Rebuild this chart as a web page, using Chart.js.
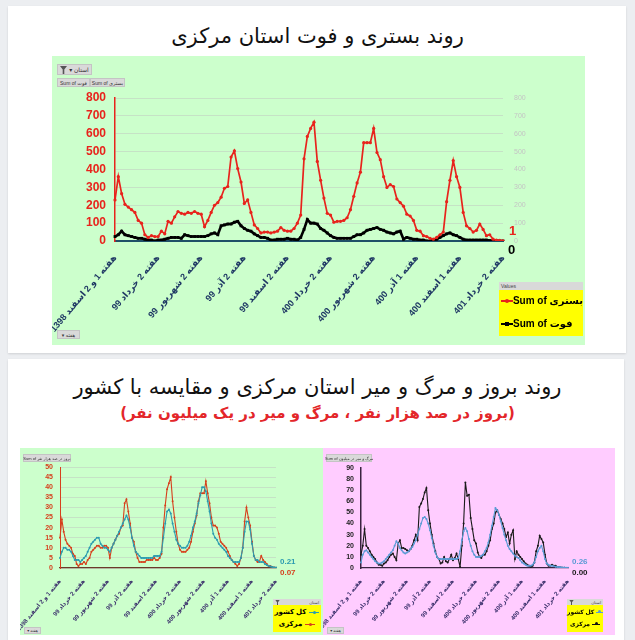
<!DOCTYPE html>
<html><head><meta charset="utf-8">
<script src="https://cdn.jsdelivr.net/npm/chart.js@4.4.1/dist/chart.umd.min.js"></script>
<style>
html,body{margin:0;padding:0}
body{width:635px;height:640px;background:#eceef1;position:relative;overflow:hidden;font-family:"DejaVu Sans",sans-serif}
.card{position:absolute;background:#fff;box-shadow:0 1px 2px rgba(0,0,0,0.12)}
.panel{position:absolute;overflow:hidden}
.panel canvas{position:absolute;left:0;top:0;direction:rtl}
.title{position:absolute;left:0;width:635px;text-align:center;direction:rtl;white-space:nowrap}
.btn{position:absolute;background:#d9d9d9;border:1px solid #c4c4c4;font:5px "Liberation Sans","DejaVu Sans",sans-serif;color:#333;white-space:nowrap;box-sizing:border-box;display:flex;align-items:center;justify-content:center;gap:2px}
.legend{position:absolute;background:#ffff00;box-sizing:border-box}
.lhead{background:#d9d9d9;height:8px;font:5px "Liberation Sans","DejaVu Sans",sans-serif;color:#444;display:flex;align-items:center;justify-content:space-between;padding:0 2px}
.lrow{position:absolute;left:0;right:0;display:flex;align-items:center;white-space:nowrap;font-weight:bold;font-family:"Liberation Sans","DejaVu Sans",sans-serif;color:#000}
.mk{position:relative;display:inline-block}
.mk i{position:absolute;left:0;right:0;top:50%;height:2px;margin-top:-1px}
.mk b{position:absolute;left:50%;top:50%;width:4px;height:4px;margin:-2px 0 0 -2px;border-radius:50%}
</style>
</head><body>
<div class="card" style="left:8px;top:6px;width:618px;height:347px"></div>
<div class="card" style="left:8px;top:359px;width:616px;height:290px"></div>

<div class="title" style="top:24px;font-size:21px;color:#111">روند بستری و فوت استان مرکزی</div>
<div class="title" style="top:375px;font-size:21px;color:#111">روند بروز و مرگ و میر استان مرکزی و مقایسه با کشور</div>
<div class="title" style="top:404px;font-size:15px;color:#e3262a;font-weight:bold">(بروز در صد هزار نفر ، مرگ و میر در یک میلیون نفر)</div>

<!-- top panel -->
<div class="panel" style="left:52px;top:56px;width:533px;height:289px;background:#ccffcc">
  <canvas id="c1" width="533" height="289"></canvas>
  <div class="btn" style="left:5px;top:8px;width:35px;height:11px;font-size:6px"><svg width="7" height="8" viewBox="0 0 7 8"><path d="M0 0H7L4.3 3.5V8H2.7V3.5Z" fill="#555"/></svg><span dir="rtl">استان ▾</span></div>
  <div class="btn" style="left:5px;top:22px;width:33px;height:9px"><span dir="ltr">Sum of فوت</span></div>
  <div class="btn" style="left:38px;top:22px;width:35px;height:9px"><span dir="ltr">Sum of بستری</span></div>
  <div class="btn" style="left:5px;top:274px;width:23px;height:9px"><span dir="rtl">هفته ▾</span></div>
  <div class="legend" style="left:447px;top:226px;width:84px;height:54px">
    <div class="lhead" style="justify-content:flex-start">Values</div>
    <div class="lrow" style="top:13px;font-size:10px;padding-left:2px"><span class="mk" style="width:12px;height:8px"><i style="background:#e8231c"></i><b style="background:#e8231c"></b></span><span dir="ltr">Sum of بستری</span></div>
    <div class="lrow" style="top:36px;font-size:10px;padding-left:2px"><span class="mk" style="width:12px;height:8px"><i style="background:#000"></i><b style="background:#000;border-radius:0"></b></span><span dir="ltr">Sum of فوت</span></div>
  </div>
</div>

<!-- bottom left panel -->
<div class="panel" style="left:20px;top:448px;width:303px;height:187px;background:#ccffcc">
  <canvas id="c2" width="303" height="187"></canvas>
  <div class="btn" style="left:3px;top:6px;width:48px;height:8px;font-size:4px"><span dir="ltr">Sum of بروز در صد هزار نفر</span></div>
  <div class="btn" style="left:4px;top:179px;width:17px;height:7px;font-size:4px"><span dir="rtl">هفته ▾</span></div>
  <div class="legend" style="left:253px;top:151px;width:48px;height:33px">
    <div class="lhead" style="height:6px;font-size:4px"><svg width="5" height="5" viewBox="0 0 7 8"><path d="M0 0H7L4.3 3.5V8H2.7V3.5Z" fill="#555"/></svg><span>استان</span></div>
    <div class="lrow" style="top:9px;font-size:7px;justify-content:center;gap:3px"><span dir="rtl">کل کشور</span><span class="mk" style="width:10px;height:6px"><i style="background:#2a9bb0;height:1px;margin-top:0"></i><b style="background:#2a9bb0;width:3px;height:3px;margin:-1.5px 0 0 -1.5px"></b></span></div>
    <div class="lrow" style="top:21px;font-size:7px;justify-content:center;gap:3px"><span dir="rtl">مرکزی</span><span class="mk" style="width:10px;height:6px"><i style="background:#d6401d;height:1px;margin-top:0"></i><b style="background:#d6401d;width:3px;height:3px;margin:-1.5px 0 0 -1.5px"></b></span></div>
  </div>
</div>

<!-- bottom right panel -->
<div class="panel" style="left:323px;top:448px;width:292px;height:187px;background:#ffccff">
  <canvas id="c3" width="292" height="187"></canvas>
  <div class="btn" style="left:3px;top:6px;width:46px;height:8px;font-size:4px"><span dir="ltr">Sum of مرگ و میر در میلیون</span></div>
  <div class="btn" style="left:4px;top:179px;width:17px;height:7px;font-size:4px"><span dir="rtl">هفته ▾</span></div>
  <div class="legend" style="left:244px;top:151px;width:36px;height:33px">
    <div class="lhead" style="height:6px;font-size:4px"><svg width="5" height="5" viewBox="0 0 7 8"><path d="M0 0H7L4.3 3.5V8H2.7V3.5Z" fill="#555"/></svg><span>استان</span></div>
    <div class="lrow" style="top:9px;font-size:6px;justify-content:center;gap:2px"><span dir="rtl">کل کشور</span><span class="mk" style="width:8px;height:6px"><i style="background:#5b9bd5;height:1px;margin-top:0"></i><b style="background:#5b9bd5;width:3px;height:3px;margin:-1.5px 0 0 -1.5px"></b></span></div>
    <div class="lrow" style="top:21px;font-size:6px;justify-content:center;gap:2px"><span dir="rtl">مرکزی</span><span class="mk" style="width:8px;height:6px"><i style="background:#111;height:1px;margin-top:0"></i><b style="background:#111;width:3px;height:3px;margin:-1.5px 0 0 -1.5px"></b></span></div>
  </div>
</div>

<script>
// ---- data ----
const tickLabels = ["هفته 1 و 2 اسفند 1398","هفته 2 خرداد 99","هفته 2 شهریور 99","هفته 2 آذر 99","هفته 2 اسفند 99","هفته 2 خرداد 400","هفته 2 شهریور 400","هفته 1 آذر 400","هفته 1 اسفند 400","هفته 2 خرداد 401"];
const weeksBetweenTicks = 13;

const hospitalized = [230,360,265,205,190,175,160,115,100,35,
 20,30,25,25,55,40,110,100,135,165,
 155,150,160,155,165,155,150,80,115,160,
 200,215,245,295,305,470,505,405,330,210,
 230,160,90,70,45,50,50,45,50,55,
 75,60,55,55,70,100,145,460,585,630,
 665,445,340,240,155,145,105,110,110,115,
 130,175,250,325,385,550,550,550,630,495,
 455,360,300,315,305,235,215,195,150,140,
 115,60,55,30,25,15,10,20,35,50,
 220,340,450,360,300,160,85,70,50,60,
 95,65,30,35,10,5,3,1];
const deaths = [25,35,55,35,30,25,20,15,15,10,
 5,5,0,5,5,10,15,20,20,20,
 15,35,30,25,25,25,25,25,30,40,
 45,35,85,90,95,95,105,110,85,70,
 60,55,40,30,20,20,15,5,5,10,
 10,10,15,10,10,5,20,65,120,100,
 100,95,70,60,45,30,20,15,15,15,
 15,15,25,35,35,45,60,65,70,75,
 65,60,50,45,40,50,55,10,20,15,
 10,10,5,5,0,0,5,10,20,30,
 40,45,35,30,20,10,5,5,5,5,
 5,5,5,2,2,1,0,0];
const incidenceCountry = [5,8,10,10,9,9,8,6,4,4,
 4,3,4,5,6,8,10,12,13,14,
 15,15,12,11,10,10,9,8,10,12,
 14,16,18,20,22,24,26,24,20,15,
 11,8,7,6,5,5,5,5,5,5,
 5,6,6,6,6,8,15,22,28,29,
 27,22,18,14,12,11,10,10,10,11,
 13,16,20,23,27,32,36,40,40,38,
 33,28,22,17,15,14,12,11,10,9,
 8,6,5,4,3,3,3,3,5,10,
 18,23,23,19,12,6,4,4,3,3,
 3,2,1.5,1,0.8,0.5,0.3,0.21];
const incidenceMarkazi = [15,24,18,14,12,11,10,7,6,2,
 1,2,2,3,2,4,5,8,9,10,
 11,11,10,10,11,11,10,5,10,12,
 14,16,17,20,21,32,34,28,22,15,
 13,8,5,3,3,3,3,4,4,4,
 4,5,4,4,5,7,20,31,39,42,
 45,33,25,18,12,9,8,8,8,9,
 10,13,18,22,26,33,37,37,37,43,
 37,32,25,21,21,20,17,13,12,11,
 10,8,6,4,3,2,1,2,5,10,
 23,30,25,21,13,6,4,3,3,6,
 4,3,2,1,1,0.5,0.3,0.07];
const mortalityCountry = [5,12,15,16,14,12,10,8,6,5,
 4,4,5,6,8,10,12,14,16,20,
 24,22,18,16,14,13,14,15,17,19,
 22,25,30,35,40,45,46,44,40,34,
 27,20,14,10,8,8,8,8,8,8,
 8,8,8,8,8,9,15,25,33,36,
 33,26,20,15,12,10,10,10,11,12,
 15,18,23,30,38,46,54,52,48,42,
 36,30,25,20,17,15,13,11,10,9,
 7,5,4,3,2,2,2,3,5,10,
 15,18,20,15,8,4,3,2,2,1.5,
 1.2,1,0.8,0.6,0.5,0.4,0.3,0.26];
const mortalityMarkazi = [12,20,35,20,18,15,12,10,8,5,
 3,3,2,4,5,7,10,12,13,10,
 7,22,25,18,18,17,16,15,17,20,
 25,30,25,55,58,62,68,72,52,40,
 30,22,15,10,8,4,5,10,6,5,
 8,12,7,9,13,8,1,20,40,77,
 65,66,45,35,25,22,14,10,9,12,
 12,15,20,25,35,40,50,52,48,44,
 40,35,28,32,22,30,34,8,15,12,
 10,8,6,4,3,2,1,2,5,15,
 20,29,26,23,12,4,2,2,3,2,
 2,1,1,0.5,0.3,0.2,0.1,0];

// category labels: tick label every weeksBetweenTicks points
const weekLabels = hospitalized.map((_, i) => (i % weeksBetweenTicks === 0 ? (tickLabels[i / weeksBetweenTicks] || '') : ''));

const numFont = '"Liberation Sans","DejaVu Sans",sans-serif';

const endLabels = {
  id: 'endLabels',
  afterDatasetsDraw(chart) {
    const ctx = chart.ctx;
    chart.data.datasets.forEach((ds, i) => {
      const el = ds.endLabel;
      if (!el) return;
      const meta = chart.getDatasetMeta(i);
      const pt = meta.data[meta.data.length - 1];
      const v = ds.data[ds.data.length - 1];
      ctx.save();
      ctx.direction = 'ltr';
      ctx.font = el.font;
      ctx.fillStyle = el.color;
      ctx.textAlign = 'left';
      ctx.textBaseline = 'middle';
      ctx.fillText(v.toFixed(el.decimals), pt.x + el.dx, pt.y + el.dy);
      ctx.restore();
    });
  }
};

function xScale(opts) {
  return {
    offset: false,
    grid: { display: false },
    border: { color: opts.borderColor, width: opts.borderWidth },
    ticks: { autoSkip: false, maxRotation: 50, minRotation: 50, color: opts.color,
      font: { size: opts.size, weight: 'bold', family: numFont }, padding: opts.padding },
    afterFit(s) { s.height = opts.height; s.paddingLeft = 0; s.paddingRight = 0; }
  };
}

Chart.defaults.font.family = numFont;

// top chart
new Chart(document.getElementById('c1'), {
  type: 'line',
  data: { labels: weekLabels, datasets: [
    { label: 'Sum of بستری', data: hospitalized, borderColor: '#e8231c', backgroundColor: '#e8231c',
      borderWidth: 1.7, pointRadius: 1.6, pointBorderWidth: 0, yAxisID: 'y',
      endLabel: { font: 'bold 13px ' + numFont, color: '#e8231c', dx: 6, dy: -9, decimals: 0 } },
    { label: 'Sum of فوت', data: deaths, borderColor: '#000', backgroundColor: '#000',
      borderWidth: 2.6, pointRadius: 2, pointStyle: 'rect', pointBorderWidth: 0, yAxisID: 'y',
      endLabel: { font: 'bold 13px ' + numFont, color: '#000', dx: 5, dy: 9, decimals: 0 } }
  ]},
  options: {
    responsive: false, animation: false,
    plugins: { legend: { display: false }, tooltip: { enabled: false } },
    layout: { padding: { top: 42, left: 0, right: 0, bottom: 0 } },
    elements: { line: { tension: 0 } },
    scales: {
      x: xScale({ borderColor: '#1f5068', borderWidth: 2, color: '#1f3864', size: 9, padding: 4, height: 104 }),
      y: { min: 0, max: 800, ticks: { autoSkip: false, stepSize: 100, color: '#e8231c', font: { size: 12, weight: 'bold' }, padding: 9 },
           grid: { color: 'rgba(190,190,190,0.45)', drawTicks: false }, border: { color: '#e8231c', width: 1.5 },
           afterFit(s) { s.width = 63; } },
      y1: { position: 'right', min: 0, max: 800, ticks: { autoSkip: false, stepSize: 100, color: '#c4c4c4', font: { size: 7 }, padding: 11 },
           grid: { display: false, drawTicks: false }, border: { display: false },
           afterFit(s) { s.width = 82; } }
    }
  },
  plugins: [endLabels]
});

// bottom left chart
new Chart(document.getElementById('c2'), {
  type: 'line',
  data: { labels: weekLabels, datasets: [
    { label: 'کل کشور', data: incidenceCountry, borderColor: '#2a9bb0', backgroundColor: '#2a9bb0',
      borderWidth: 1.1, pointRadius: 1, pointBorderWidth: 0,
      endLabel: { font: 'bold 8px ' + numFont, color: '#2a9bb0', dx: 4, dy: -6, decimals: 2 } },
    { label: 'مرکزی', data: incidenceMarkazi, borderColor: '#d6401d', backgroundColor: '#d6401d',
      borderWidth: 1.1, pointRadius: 1, pointBorderWidth: 0,
      endLabel: { font: 'bold 8px ' + numFont, color: '#d6401d', dx: 4, dy: 5, decimals: 2 } }
  ]},
  options: {
    responsive: false, animation: false,
    plugins: { legend: { display: false }, tooltip: { enabled: false } },
    layout: { padding: { top: 19, left: 0, right: 47, bottom: 0 } },
    elements: { line: { tension: 0 } },
    scales: {
      x: xScale({ borderColor: '#6b3a2a', borderWidth: 1.2, color: '#3a2f6b', size: 6, padding: 2, height: 67 }),
      y: { min: 0, max: 50, ticks: { autoSkip: false, stepSize: 5, color: '#d6401d', font: { size: 7, weight: 'bold' }, padding: 7 },
           grid: { color: 'rgba(190,190,190,0.45)', drawTicks: false }, border: { color: '#d6401d', width: 1 },
           afterFit(s) { s.width = 40; } }
    }
  },
  plugins: [endLabels]
});

// bottom right chart
new Chart(document.getElementById('c3'), {
  type: 'line',
  data: { labels: weekLabels, datasets: [
    { label: 'کل کشور', data: mortalityCountry, borderColor: '#5b9bd5', backgroundColor: '#5b9bd5',
      borderWidth: 1.1, pointRadius: 1, pointBorderWidth: 0,
      endLabel: { font: 'bold 8px ' + numFont, color: '#5b9bd5', dx: 4, dy: -6, decimals: 2 } },
    { label: 'مرکزی', data: mortalityMarkazi, borderColor: '#1a1a1a', backgroundColor: '#1a1a1a',
      borderWidth: 1.1, pointRadius: 1, pointBorderWidth: 0,
      endLabel: { font: 'bold 8px ' + numFont, color: '#1a1a1a', dx: 4, dy: 5, decimals: 2 } }
  ]},
  options: {
    responsive: false, animation: false,
    plugins: { legend: { display: false }, tooltip: { enabled: false } },
    layout: { padding: { top: 20, left: 0, right: 47, bottom: 0 } },
    elements: { line: { tension: 0 } },
    scales: {
      x: xScale({ borderColor: '#3a2240', borderWidth: 1.2, color: '#3a2f6b', size: 6, padding: 2, height: 67 }),
      y: { min: 0, max: 90, ticks: { autoSkip: false, stepSize: 10, color: '#222', font: { size: 7, weight: 'bold' }, padding: 7 },
           grid: { display: false, drawTicks: false }, border: { color: '#3a2240', width: 1.5 },
           afterFit(s) { s.width = 38; } }
    }
  },
  plugins: [endLabels]
});
</script>
</body></html>
